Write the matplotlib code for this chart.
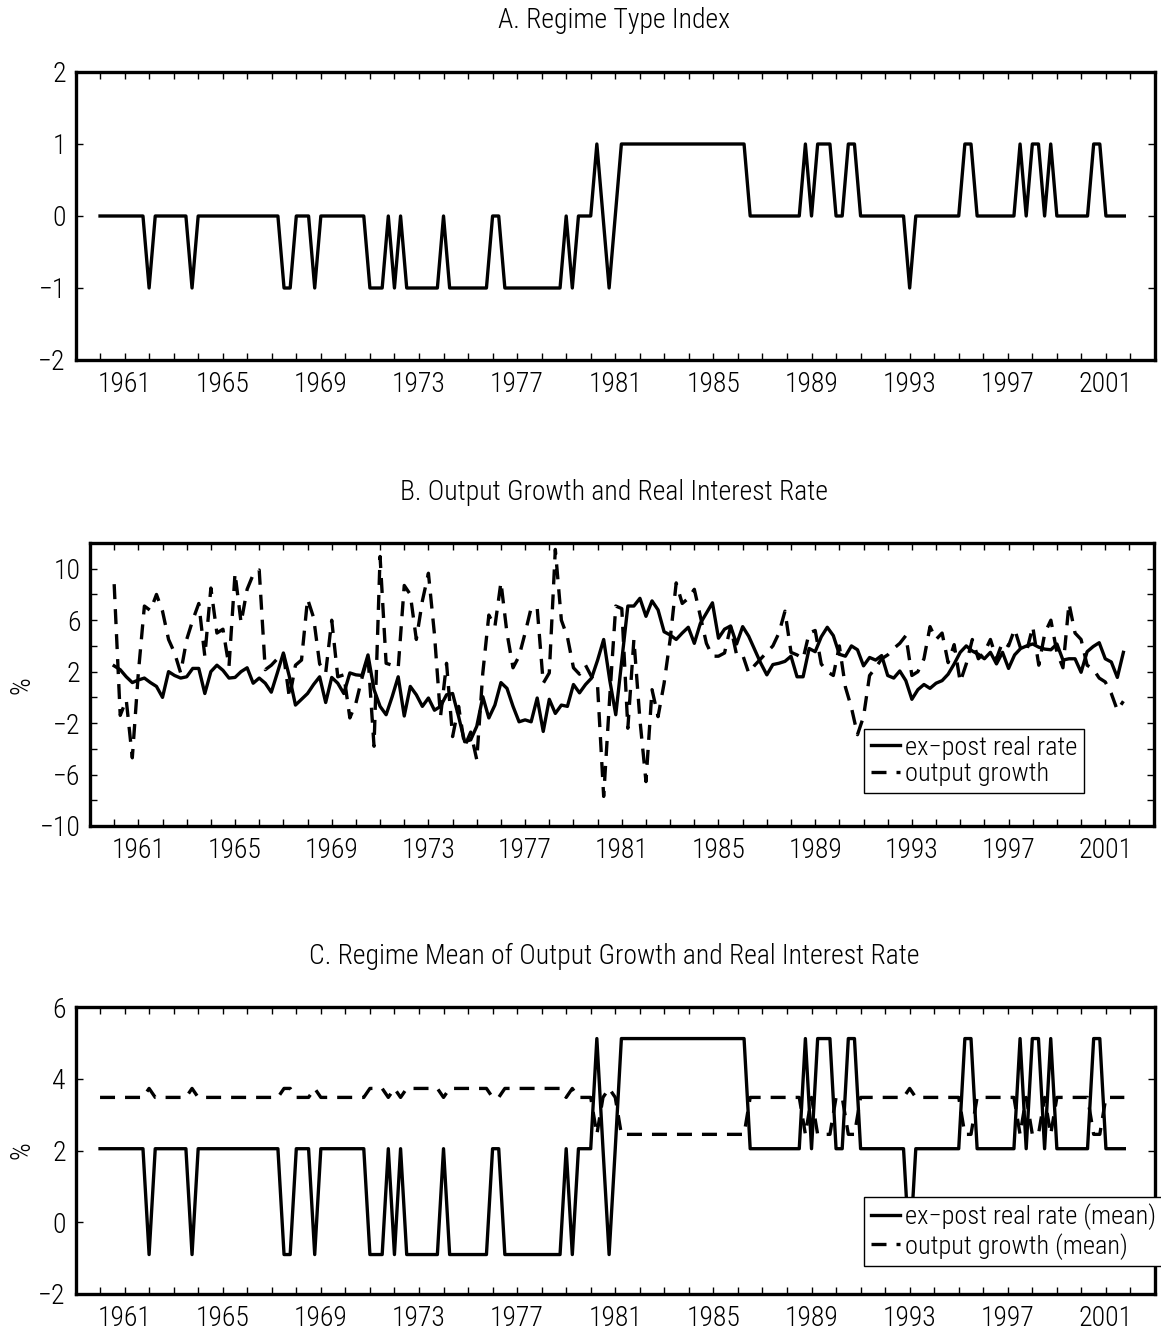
import numpy as np
import matplotlib
matplotlib.use("Agg")
import matplotlib.pyplot as plt

plt.rcParams['font.family'] = ['Roboto Condensed', 'DejaVu Sans']
plt.rcParams['font.weight'] = 'light'

# quarterly observations, 1960Q1 .. 2001Q4
quarters = 1960 + np.arange(168) / 4.0

# regime type index (-1, 0, 1)
regime = [0, 0, 0, 0, 0, 0, 0, 0, -1, 0,
          0, 0, 0, 0, 0, -1, 0, 0, 0, 0,
          0, 0, 0, 0, 0, 0, 0, 0, 0, 0,
          -1, -1, 0, 0, 0, -1, 0, 0, 0, 0,
          0, 0, 0, 0, -1, -1, -1, 0, -1, 0,
          -1, -1, -1, -1, -1, -1, 0, -1, -1, -1,
          -1, -1, -1, -1, 0, 0, -1, -1, -1, -1,
          -1, -1, -1, -1, -1, -1, 0, -1, 0, 0,
          0, 1, 0, -1, 0, 1, 1, 1, 1, 1,
          1, 1, 1, 1, 1, 1, 1, 1, 1, 1,
          1, 1, 1, 1, 1, 1, 0, 0, 0, 0,
          0, 0, 0, 0, 0, 1, 0, 1, 1, 1,
          0, 0, 1, 1, 0, 0, 0, 0, 0, 0,
          0, 0, -1, 0, 0, 0, 0, 0, 0, 0,
          0, 1, 1, 0, 0, 0, 0, 0, 0, 0,
          1, 0, 1, 1, 0, 1, 0, 0, 0, 0,
          0, 0, 1, 1, 0, 0, 0, 0]

# panel B series (%)
real_rate = [2.45, 2.15, 1.6, 1.15, 1.35, 1.5, 1.15, 0.85, 0.0, 2.0,
             1.7, 1.5, 1.6, 2.25, 2.25, 0.3, 2.0, 2.5, 2.1, 1.5,
             1.55, 2.0, 2.3, 1.1, 1.5, 1.1, 0.4, 1.9, 3.45, 1.6,
             -0.6, -0.15, 0.3, 1.0, 1.6, -0.4, 1.55, 1.1, 0.3, 1.9,
             1.75, 1.7, 3.3, 0.6, -0.7, -1.35, 0.05, 1.6, -1.45, 0.85,
             0.2, -0.7, -0.05, -1.0, -0.7, 0.2, 0.3, -1.5, -3.45, -3.3,
             -2.25, 0.05, -1.6, -0.6, 1.15, 0.7, -0.7, -1.9, -1.75, -1.9,
             -0.05, -2.65, -0.15, -1.25, -0.6, -0.7, 1.0, 0.35, 1.0, 1.5,
             2.9, 4.5, 1.35, -1.35, 2.9, 7.1, 7.1, 7.7, 6.3, 7.5,
             6.8, 5.1, 4.85, 4.5, 5.0, 5.45, 4.2, 5.75, 6.55, 7.35,
             4.6, 5.3, 5.55, 4.15, 5.5, 4.75, 3.7, 2.65, 1.75, 2.55,
             2.65, 2.8, 3.2, 1.6, 1.6, 3.8, 3.55, 4.7, 5.45, 4.8,
             3.35, 3.2, 4.0, 3.7, 2.45, 3.1, 2.9, 3.25, 1.7, 1.5,
             2.05, 1.3, -0.15, 0.6, 1.0, 0.7, 1.1, 1.3, 1.8, 2.6,
             3.5, 4.0, 3.6, 3.35, 3.0, 3.5, 2.6, 3.5, 2.25, 3.3,
             3.8, 4.0, 4.15, 3.9, 3.75, 3.7, 4.15, 2.9, 3.0, 3.0,
             1.95, 3.55, 3.95, 4.25, 3.0, 2.75, 1.55, 3.5]

output_growth = [8.8, -1.4, -0.2, -4.7, 1.9, 7.1, 6.75, 8.0, 6.7, 4.5,
                 3.45, 1.9, 4.5, 6.0, 7.3, 3.2, 8.5, 5.0, 5.3, 2.4,
                 9.65, 5.8, 8.4, 9.55, 9.9, 2.15, 2.5, 3.0, 3.4, -0.05,
                 2.5, 2.9, 7.65, 6.2, 2.6, 1.9, 6.0, 1.6, 1.75, -1.6,
                 -0.45, 1.5, 3.2, -3.8, 10.95, 2.65, 2.5, 2.3, 8.7, 8.0,
                 4.5, 7.5, 9.65, 4.9, -1.5, 2.65, -3.05, -0.7, -3.8, -2.7,
                 -4.85, 1.9, 6.4, 5.5, 8.95, 5.0, 2.3, 3.2, 5.0, 6.95,
                 6.95, 1.1, 1.9, 11.5, 6.0, 4.7, 2.3, 1.8, 2.5, 1.6,
                 0.8, -7.7, 0.0, 7.1, 6.9, -2.4, 4.5, -1.75, -6.55, 0.6,
                 -1.5, 1.1, 4.5, 8.9, 7.3, 7.7, 8.4, 6.3, 4.2, 3.2,
                 3.2, 3.45, 5.5, 3.3, 3.3, 1.9, 2.5, 3.0, 3.5, 4.0,
                 5.0, 6.7, 3.5, 3.3, 3.0, 5.0, 5.2, 2.6, 2.0, 1.7,
                 4.0, 0.8, -0.8, -2.9, -1.5, 1.7, 2.3, 3.0, 3.3, 3.8,
                 4.2, 4.8, 1.7, 2.0, 3.0, 5.5, 4.5, 5.0, 2.7, 4.1,
                 1.2, 2.6, 4.5, 3.0, 3.5, 4.5, 3.0, 4.3, 4.0, 5.3,
                 3.8, 3.6, 5.5, 2.5, 5.0, 6.0, 3.5, 2.3, 7.3, 5.0,
                 4.5, 2.5, 2.2, 1.5, 1.2, 0.3, -1.0, -0.3]

# regime means shown in panel C (regime -1, 0, 1)
rate_mean_by_regime = {-1: -0.9, 0: 2.05, 1: 5.12}
growth_mean_by_regime = {-1: 3.73, 0: 3.48, 1: 2.45}
rate_mean = [rate_mean_by_regime[r] for r in regime]
growth_mean = [growth_mean_by_regime[r] for r in regime]

years = list(range(1960, 2003))
year_labels = [str(y) if (y - 1961) % 4 == 0 else '' for y in years]

W, H = 1161, 1334
fig = plt.figure(figsize=(W / 100, H / 100), dpi=100)
fs = 20
fs_leg = 19


def add_axes(left, right, top, bottom):
    return fig.add_axes([left / W, 1 - bottom / H, (right - left) / W, (bottom - top) / H])


def style(ax, ylim, yticks, ylabels):
    ax.set_xlim(1959, 2003)
    ax.set_ylim(*ylim)
    ax.set_xticks(years)
    ax.set_xticklabels(year_labels)
    ax.set_yticks(yticks)
    ax.set_yticklabels(ylabels)
    ax.tick_params(direction='in', length=5, width=1, top=True, right=True,
                   labelsize=fs, pad=7)
    ax.tick_params(axis='x', pad=8)
    for s in ax.spines.values():
        s.set_linewidth(2.4)


def legend(ax, x0, y0):
    leg = ax.legend(loc='upper left', bbox_to_anchor=(x0, y0), fontsize=fs_leg,
                    frameon=True, fancybox=False, framealpha=1, handlelength=1.1,
                    handletextpad=0.2, borderpad=0.25, labelspacing=0.1, borderaxespad=0)
    leg.get_frame().set_edgecolor('black')
    leg.get_frame().set_linewidth(1.0)
    return leg


lw = 2.4
dash = (0, (4.5, 3))

# Panel A
axA = add_axes(75.5, 1155, 72, 360)
axA.plot(quarters, regime, color='black', lw=lw)
style(axA, (-2, 2), [-2, -1, 0, 1, 2], ['\u22122', '\u22121', '0', '1', '2'])
fig.text(614 / W, 1 - 20 / H, 'A. Regime Type Index', ha='center', va='center', fontsize=fs)

# Panel B
axB = add_axes(90, 1153.6, 543, 826)
axB.plot(quarters, real_rate, color='black', lw=lw, label='ex\u2212post real rate')
axB.plot(quarters, output_growth, color='black', lw=lw, linestyle=dash, label='output growth')
style(axB, (-10, 12), list(range(-10, 13, 2)),
      ['\u221210', '', '\u22126', '', '\u22122', '', '2', '', '6', '', '10', ''])
fig.text(22 / W, 1 - 685 / H, '%', rotation=90, ha='center', va='center', fontsize=fs)
legend(axB, (864 - 90) / 1063.6, (826 - 729) / 283)
fig.text(614 / W, 1 - 492 / H, 'B. Output Growth and Real Interest Rate',
         ha='center', va='center', fontsize=fs)

# Panel C
axC = add_axes(75.5, 1155, 1007, 1294)
axC.plot(quarters, rate_mean, color='black', lw=lw, label='ex\u2212post real rate (mean)')
axC.plot(quarters, growth_mean, color='black', lw=lw, linestyle=dash, label='output growth (mean)')
style(axC, (-2, 6), [-2, 0, 2, 4, 6], ['\u22122', '0', '2', '4', '6'])
fig.text(22 / W, 1 - 1150 / H, '%', rotation=90, ha='center', va='center', fontsize=fs)
legend(axC, (864 - 75.5) / 1079.5, (1294 - 1197) / 287)
fig.text(614 / W, 1 - 956 / H, 'C. Regime Mean of Output Growth and Real Interest Rate',
         ha='center', va='center', fontsize=fs)

fig.savefig('out.png', dpi=100)
